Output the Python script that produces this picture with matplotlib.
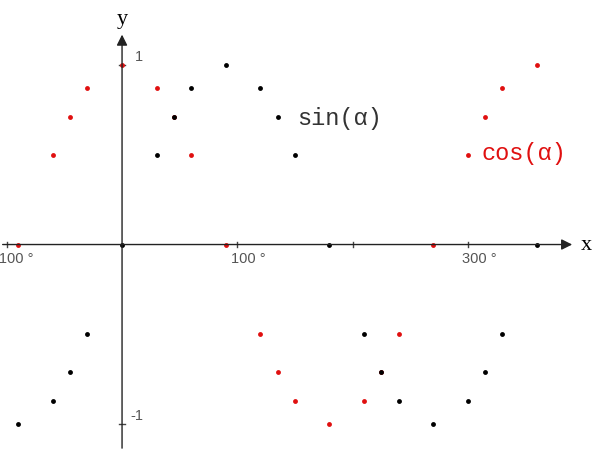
import matplotlib
matplotlib.use('Agg')
import matplotlib.pyplot as plt

# angles in degrees and values
angles = [-90, -60, -45, -30, 0, 30, 45, 60, 90, 120, 135, 150, 180,
          210, 225, 240, 270, 300, 315, 330, 360]
sin_vals = [-1, -0.87, -0.71, -0.5, 0, 0.5, 0.71, 0.87, 1, 0.87, 0.71, 0.5, 0,
            -0.5, -0.71, -0.87, -1, -0.87, -0.71, -0.5, 0]
cos_vals = [0, 0.5, 0.71, 0.87, 1, 0.87, 0.71, 0.5, 0, -0.5, -0.71, -0.87, -1,
            -0.87, -0.71, -0.5, 0, 0.5, 0.71, 0.87, 1]
x_ticks = [-100, 100, 200, 300]
x_labels = {-100: '-100 °', 100: '100 °', 300: '300 °'}
y_ticks = [1, -1]

red = '#e01010'

fig = plt.figure(figsize=(6.04, 4.60), dpi=100)
ax = fig.add_axes([0, 0, 1, 1])
ax.set_xlim(-105.9, 418.2)
ax.set_ylim(-1.195, 1.368)
ax.axis('off')

# axes with arrows
ax.annotate('', xy=(393, 0), xytext=(-106, 0),
            arrowprops=dict(arrowstyle='-|>', color='#222222', lw=1, mutation_scale=16))
ax.annotate('', xy=(0, 1.185), xytext=(0, -1.15),
            arrowprops=dict(arrowstyle='-|>', color='#222222', lw=1, mutation_scale=16))
ax.text(403, 0.0, 'x', family='Liberation Serif', fontsize=16, ha='center', va='center')
ax.text(0, 1.26, 'y', family='Liberation Serif', fontsize=16, ha='center', va='center')

# ticks
for t in x_ticks:
    ax.plot([t, t], [-0.015, 0.015], color='#444444', lw=1)
    if t in x_labels:
        dx = 11.5 if t < 0 else 5.2
        ax.text(t - dx, -0.035, x_labels[t], family='Liberation Sans', fontsize=10.5,
                color='#555555', ha='left', va='top')
for t in y_ticks:
    ax.plot([-2.5, 2.5], [t, t], color='#444444', lw=1)
ax.text(11, 1.05, '1', family='Liberation Sans', fontsize=10.5, color='#555555',
        ha='left', va='center')
ax.text(7, -0.95, '-1', family='Liberation Sans', fontsize=10.5, color='#555555',
        ha='left', va='center')

# data points
ax.plot(angles, cos_vals, 'o', color=red, markersize=3.5, markeredgewidth=0)
ax.plot(angles, sin_vals, 'o', color='black', markersize=3.5, markeredgewidth=0)

ax.text(152, 0.71, 'sin(α)', family='Liberation Mono', fontsize=17,
        color='#333333', ha='left', va='center')
ax.text(312, 0.51, 'cos(α)', family='Liberation Mono', fontsize=17,
        color=red, ha='left', va='center')

fig.savefig('out.png', dpi=100)
